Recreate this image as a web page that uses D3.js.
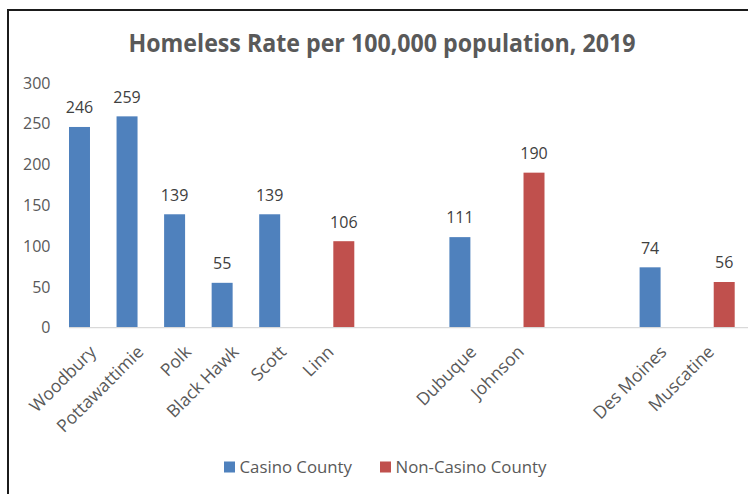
<!DOCTYPE html>
<html>
<head>
<meta charset="utf-8">
<script src="https://cdn.jsdelivr.net/npm/d3@7/dist/d3.min.js"></script>
<style>
  html, body { margin: 0; padding: 0; background: #fff; }
  svg { display: block; }
  text { font-family: "Open Sans", Lato, sans-serif; }
</style>
</head>
<body>
<svg id="chart" width="748" height="494"></svg>
<script>
// Counties in axis order; empty strings are spacer slots between groups.
const categories = ["Woodbury", "Pottawattimie", "Polk", "Black Hawk", "Scott", "Linn", "", "",
                    "Dubuque", "Johnson", "", "", "Des Moines", "Muscatine"];
const casinoCounty    = [246, 259, 139, 55, 139, null, null, null, 111, null, null, null, 74, null];
const nonCasinoCounty = [null, null, null, null, null, 106, null, null, null, 190, null, null, null, 56];
const seriesNames = ["Casino County", "Non-Casino County"];
const seriesColors = ["#4F81BD", "#C0504D"];
const yTicks = [0, 50, 100, 150, 200, 250, 300];
const title = "Homeless Rate per 100,000 population, 2019";

const svg = d3.select("#chart");
const W = 748, H = 494;

// Outer frame
svg.append("rect")
  .attr("x", 8).attr("y", 10).attr("width", 900).attr("height", 700)
  .attr("fill", "none").attr("stroke", "#1b1b1b").attr("stroke-width", 2);

// Title
svg.append("text")
  .attr("x", 382).attr("y", 52)
  .attr("text-anchor", "middle")
  .attr("font-family", "Lato, sans-serif")
  .attr("font-size", 24.5).attr("font-weight", "bold")
  .attr("fill", "#595959")
  .attr("textLength", 507).attr("lengthAdjust", "spacingAndGlyphs")
  .text(title);

const plotLeft = 69, plotBottom = 327.7, plotTop = 82.9;
const x = d3.scaleBand()
  .domain(d3.range(categories.length))
  .range([plotLeft, plotLeft + 47.55 * categories.length])
  .paddingInner(0).paddingOuter(0);
const xs = d3.scaleBand()
  .domain([0, 1])
  .range([0, x.bandwidth()])
  .paddingInner(0.21).paddingOuter(0);
const y = d3.scaleLinear().domain([0, 300]).range([plotBottom, plotTop]);

// Y axis labels (no line)
const yAxis = svg.append("g")
  .attr("transform", `translate(${plotLeft},0)`)
  .call(d3.axisLeft(y).tickValues(yTicks).tickSize(0).tickPadding(18.5));
yAxis.select(".domain").remove();
yAxis.selectAll("text")
  .attr("font-family", "'Open Sans', sans-serif")
  .attr("font-size", 16).attr("fill", "#595959");

// Category axis
const xAxis = svg.append("g")
  .attr("transform", `translate(0,${plotBottom})`)
  .call(d3.axisBottom(x).tickSize(0).tickFormat(i => categories[i]));
xAxis.select(".domain").remove();
xAxis.selectAll("text")
  .attr("font-family", "'Open Sans', sans-serif")
  .attr("font-size", 17.5).attr("fill", "#595959")
  .attr("text-anchor", "end")
  .attr("x", 0).attr("y", 0).attr("dy", "0.35em")
  .attr("transform", "translate(0,21) rotate(-45)");

// Bars
const series = [casinoCounty, nonCasinoCounty];
series.forEach((vals, s) => {
  const pts = vals.map((v, i) => ({ i, v })).filter(d => d.v !== null);
  const g = svg.append("g");
  g.selectAll("rect").data(pts).join("rect")
    .attr("x", d => x(d.i) + xs(s))
    .attr("y", d => y(d.v))
    .attr("width", xs.bandwidth())
    .attr("height", d => y(0) - y(d.v))
    .attr("fill", seriesColors[s]);
  g.selectAll("text").data(pts).join("text")
    .attr("x", d => x(d.i) + xs(s) + xs.bandwidth() / 2)
    .attr("y", d => y(d.v) - 13.7)
    .attr("text-anchor", "middle")
    .attr("font-size", 16).attr("fill", "#404040")
    .text(d => d.v);
});

// Baseline
svg.append("line")
  .attr("x1", plotLeft).attr("x2", W)
  .attr("y1", plotBottom).attr("y2", plotBottom)
  .attr("stroke", "#D9D9D9").attr("stroke-width", 1.3);

// Legend
const legend = svg.append("g");
const legendX = [224, 380];
seriesNames.forEach((name, s) => {
  legend.append("rect")
    .attr("x", legendX[s]).attr("y", 461.5).attr("width", 11).attr("height", 11)
    .attr("fill", seriesColors[s]);
  legend.append("text")
    .attr("x", legendX[s] + 15.5).attr("y", 473.2)
    .attr("font-size", 16.8).attr("fill", "#595959")
    .text(name);
});
</script>
</body>
</html>
